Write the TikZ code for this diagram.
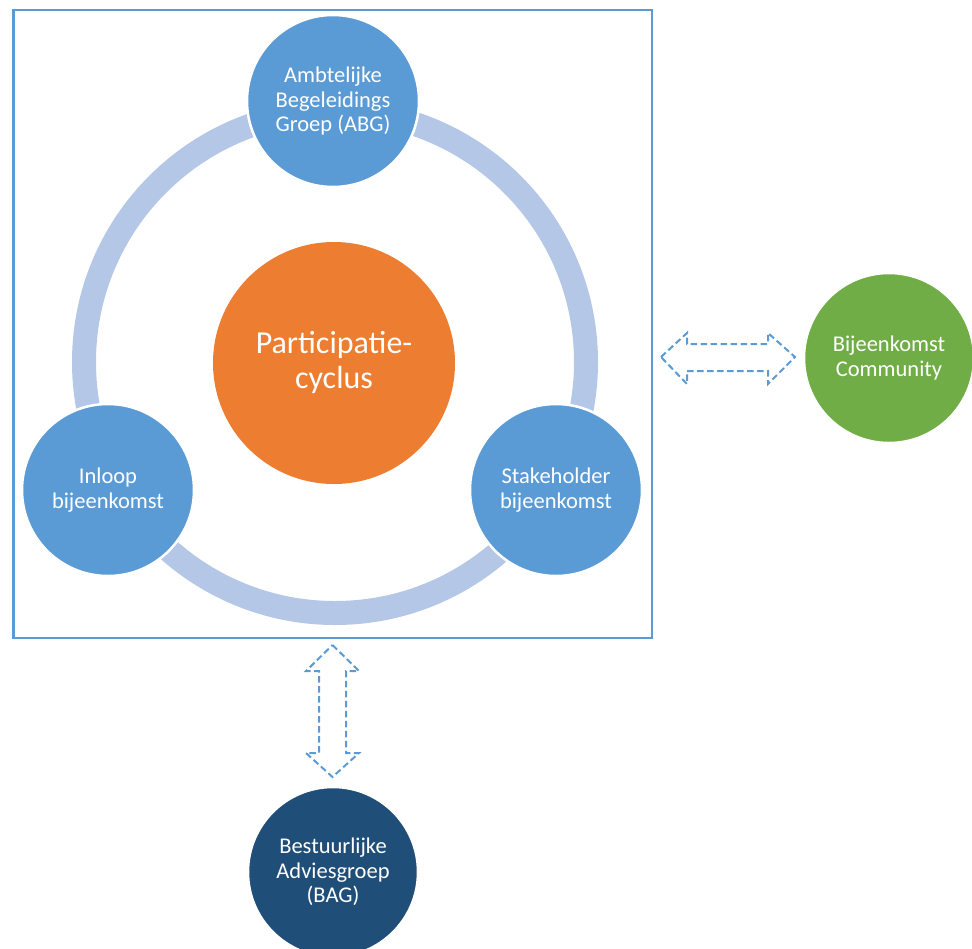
\documentclass[tikz,border=0pt]{standalone}
\usepackage{fontspec}
\setmainfont{Carlito}
\definecolor{cblue}{HTML}{5B9BD5}
\definecolor{cring}{HTML}{B4C7E7}
\definecolor{corange}{HTML}{ED7D31}
\definecolor{cgreen}{HTML}{70AD47}
\definecolor{cdark}{HTML}{1F4E79}
\begin{document}
\begin{tikzpicture}[x=1pt,y=-1pt,
  bubble/.style={circle, minimum size=172pt, inner sep=0pt, draw=white, line width=2.5pt,
    text=white, align=center, font=\fontsize{22.5}{24.5}\selectfont},
  ringstyle/.style={circle, minimum size=502pt, inner sep=0pt, draw=cring, line width=24pt},
  framestyle/.style={draw=cblue, line width=2.5pt},
  dblarrow/.style={draw=cblue, line width=2pt, dash pattern=on 6.5pt off 3.5pt, line join=miter}]
\useasboundingbox (0,0) rectangle (972,948);
\clip (0,0) rectangle (972,948);
% frame
\draw[framestyle] (13.5,10) rectangle (652,638);
% ring
\node[ringstyle] (ring) at (335,362) {};
% center
\node[circle, minimum size=242pt, inner sep=0pt, fill=corange, text=white, align=center,
  font=\fontsize{32}{35}\selectfont] (pc) at (334,363) {Participatie-\\cyclus};
% ring nodes
\node[bubble, fill=cblue] (abg) at (333,101) {Ambtelijke\\Begeleidings\\Groep (ABG)};
\node[bubble, fill=cblue] (inloop) at (108,490) {Inloop\\bijeenkomst};
\node[bubble, fill=cblue] (stake) at (556,490) {Stakeholder\\bijeenkomst};
% outside nodes
\node[bubble, fill=cgreen, minimum size=170pt] (comm) at (889,358) {Bijeenkomst\\Community};
\node[bubble, fill=cdark, minimum size=170pt] (bag) at (333,872) {Bestuurlijke\\Adviesgroep\\(BAG)};
% horizontal double arrow
\draw[dblarrow] (661,357) -- (687,333) -- (687,344) -- (768,344) -- (768,333) -- (795,357)
  -- (768,384) -- (768,371) -- (687,371) -- (687,384) -- cycle;
% vertical double arrow
\draw[dblarrow] (332.5,645) -- (359,671) -- (346,671) -- (346,753) -- (359,753) -- (332.5,777)
  -- (306,753) -- (319,753) -- (319,671) -- (306,671) -- cycle;
\end{tikzpicture}
\end{document}
